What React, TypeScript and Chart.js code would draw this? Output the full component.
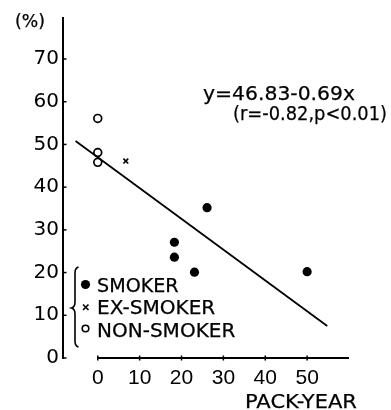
import React, { useEffect, useRef } from "react";
import { Chart, registerables } from "chart.js";

Chart.register(...registerables);

// ---- data ----
const SMOKER_X = [18.3, 18.3, 23.1, 26.1, 50.0];
const SMOKER_Y = [27.1, 23.6, 20.1, 35.2, 20.2];
const EX_SMOKER_X = [6.7];
const EX_SMOKER_Y = [46.1];
const NON_SMOKER_X = [0, 0, 0];
const NON_SMOKER_Y = [56.1, 48.1, 45.8];
const FIT_LINE_X = [-5.3, 54.8];
const FIT_LINE_Y = [50.8, 7.5];

const X_TICKS = [0, 10, 20, 30, 40, 50];
const Y_TICKS = [0, 10, 20, 30, 40, 50, 60, 70];
const X_AXIS_SPAN = [0, 60];

const LEGEND_LABELS = ["SMOKER", "EX-SMOKER", "NON-SMOKER"];
const EQUATION = "y=46.83-0.69x";
const STATS = "(r=-0.82,p<0.01)";
const Y_UNIT = "(%)";
const X_TITLE = "PACK-YEAR";

const FONT = "'DejaVu Sans', 'Liberation Sans', sans-serif";

function fitText(ctx: CanvasRenderingContext2D, text: string, x: number, baseline: number, width: number, size: number) {
  ctx.save();
  ctx.font = `${size}px ${FONT}`;
  ctx.textAlign = "left";
  ctx.textBaseline = "alphabetic";
  ctx.fillStyle = "#000";
  ctx.strokeStyle = "#000";
  ctx.lineWidth = 0.25;
  const w = ctx.measureText(text).width;
  const s = width / w;
  ctx.translate(x, baseline);
  ctx.scale(s, 1);
  ctx.fillText(text, 0, 0);
  ctx.strokeText(text, 0, 0);
  ctx.restore();
}

const annotations = {
  id: "annotations",
  afterDraw(chart: any) {
    const ctx: CanvasRenderingContext2D = chart.ctx;
    const xs = chart.scales.x;
    const ys = chart.scales.y;
    const y0 = ys.getPixelForValue(0);
    const axisX = chart.chartArea.left;
    ctx.save();
    ctx.strokeStyle = "#000";
    ctx.fillStyle = "#000";
    // x axis line from 0 to 60
    ctx.lineWidth = 2;
    ctx.beginPath();
    ctx.moveTo(xs.getPixelForValue(X_AXIS_SPAN[0]), y0);
    ctx.lineTo(xs.getPixelForValue(X_AXIS_SPAN[1]), y0);
    ctx.stroke();
    // x tick marks
    ctx.lineWidth = 1.5;
    X_TICKS.forEach((v) => {
      const px = xs.getPixelForValue(v);
      ctx.beginPath();
      ctx.moveTo(px, y0 - 2.5);
      ctx.lineTo(px, y0 + 2.5);
      ctx.stroke();
    });
    // y tick marks
    Y_TICKS.forEach((v) => {
      const py = ys.getPixelForValue(v);
      ctx.beginPath();
      ctx.moveTo(axisX, py);
      ctx.lineTo(axisX + 3.5, py);
      ctx.stroke();
    });
    ctx.restore();

    // texts
    fitText(ctx, Y_UNIT, 15, 27, 30, 17);
    fitText(ctx, EQUATION, 203, 100, 152, 20);
    fitText(ctx, STATS, 233, 120, 154, 20);
    fitText(ctx, X_TITLE, 245, 408, 112, 20);

    // legend
    const legendY = [292, 314, 337];
    const legendW = [81.6, 118.3, 138.3];
    LEGEND_LABELS.forEach((t, i) => fitText(ctx, t, 97, legendY[i], legendW[i], 19));
    ctx.save();
    ctx.strokeStyle = "#000";
    ctx.fillStyle = "#000";
    // smoker marker
    ctx.beginPath();
    ctx.arc(85.5, 284.5, 4.6, 0, Math.PI * 2);
    ctx.fill();
    // ex-smoker marker
    ctx.lineWidth = 1.6;
    ctx.beginPath();
    ctx.moveTo(83, 304.5);
    ctx.lineTo(88.5, 310);
    ctx.moveTo(88.5, 304.5);
    ctx.lineTo(83, 310);
    ctx.stroke();
    // non-smoker marker
    ctx.beginPath();
    ctx.arc(85.5, 328.5, 3.3, 0, Math.PI * 2);
    ctx.stroke();
    // brace
    ctx.lineWidth = 1.6;
    ctx.beginPath();
    ctx.moveTo(78.5, 267);
    ctx.quadraticCurveTo(75, 268, 75, 273);
    ctx.lineTo(75, 302);
    ctx.quadraticCurveTo(75, 307, 71.5, 308);
    ctx.quadraticCurveTo(75, 309, 75, 314);
    ctx.lineTo(75, 341);
    ctx.quadraticCurveTo(75, 346, 78.5, 347);
    ctx.stroke();
    ctx.restore();
  },
};

export default function App() {
  const ref = useRef<HTMLCanvasElement | null>(null);
  useEffect(() => {
    if (!ref.current) return;
    const toPts = (xs: number[], ys: number[]) => xs.map((x, i) => ({ x, y: ys[i] }));
    const chart = new Chart(ref.current, {
      type: "scatter",
      data: {
        datasets: [
          {
            label: "fit",
            type: "line",
            data: toPts(FIT_LINE_X, FIT_LINE_Y),
            borderColor: "#000",
            borderWidth: 1.8,
            pointRadius: 0,
            showLine: true,
            fill: false,
          } as any,
          {
            label: LEGEND_LABELS[0],
            data: toPts(SMOKER_X, SMOKER_Y),
            pointStyle: "circle",
            pointRadius: 4.6,
            backgroundColor: "#000",
            borderColor: "#000",
            borderWidth: 0,
          },
          {
            label: LEGEND_LABELS[1],
            data: toPts(EX_SMOKER_X, EX_SMOKER_Y),
            pointStyle: "crossRot",
            pointRadius: 3.4,
            backgroundColor: "#000",
            borderColor: "#000",
            borderWidth: 1.7,
          },
          {
            label: LEGEND_LABELS[2],
            data: toPts(NON_SMOKER_X, NON_SMOKER_Y),
            pointStyle: "circle",
            pointRadius: 3.9,
            backgroundColor: "#fff",
            borderColor: "#000",
            borderWidth: 1.7,
          },
        ],
      },
      options: {
        animation: false,
        responsive: false,
        devicePixelRatio: 1,
        layout: { padding: { top: 18, right: 42, left: 0, bottom: 0 } },
        plugins: { legend: { display: false }, tooltip: { enabled: false } },
        scales: {
          x: {
            type: "linear",
            min: -8.3,
            max: 60,
            afterFit: (s: any) => {
              s.height = 52;
            },
            grid: { display: false, drawTicks: false },
            border: { display: false },
            ticks: {
              stepSize: 10,
              includeBounds: false,
              autoSkip: false,
              maxRotation: 0,
              padding: 8,
              color: "#000",
              font: { family: "'Liberation Sans Narrow', 'Liberation Sans', sans-serif", size: 21 },
              callback: (v: any) => (X_TICKS.includes(Number(v)) ? String(v) : null),
            },
          },
          y: {
            type: "linear",
            min: 0,
            max: 79.6,
            afterFit: (s: any) => {
              s.width = 63;
            },
            grid: { display: false, drawTicks: false },
            border: { display: true, color: "#000", width: 2 },
            ticks: {
              stepSize: 10,
              includeBounds: false,
              autoSkip: false,
              padding: 4,
              color: "#000",
              font: { family: FONT, size: 20 },
              callback: (v: any) => (Y_TICKS.includes(Number(v)) ? String(v) : null),
            },
          },
        },
      },
      plugins: [annotations],
    });
    return () => chart.destroy();
  }, []);
  return (
    <div style={{ position: "absolute", left: 0, top: 0, width: 391, height: 410, background: "#fff" }}>
      <canvas ref={ref} width={391} height={410} style={{ width: 391, height: 410, display: "block" }} />
    </div>
  );
}
